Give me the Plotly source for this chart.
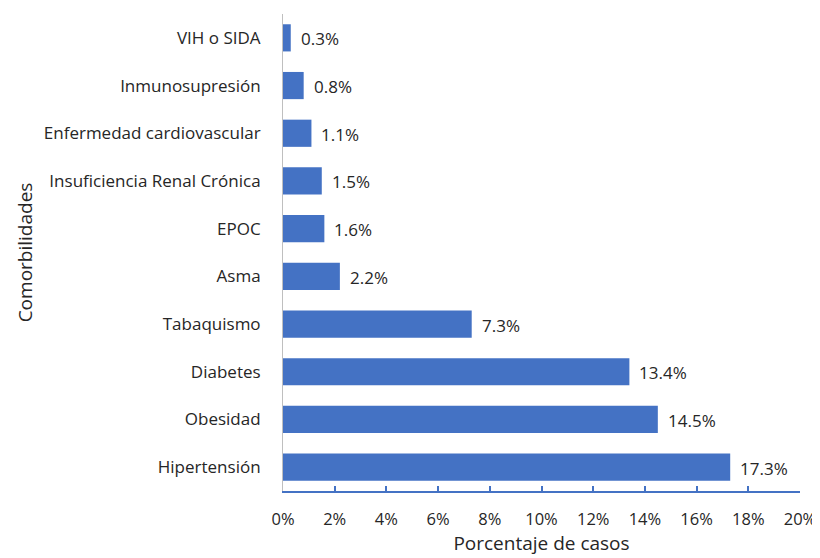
import plotly.graph_objects as go

categories = ["Hipertensión", "Obesidad", "Diabetes", "Tabaquismo", "Asma", "EPOC",
              "Insuficiencia Renal Crónica", "Enfermedad cardiovascular",
              "Inmunosupresión", "VIH o SIDA"]
values = [17.3, 14.5, 13.4, 7.3, 2.2, 1.6, 1.5, 1.1, 0.8, 0.3]
x_ticks = [0, 2, 4, 6, 8, 10, 12, 14, 16, 18, 20]
x_tick_labels = [f"{t}%" for t in x_ticks]

FONT = "Open Sans"
TXT = "#262626"
FS = 17

fig = go.Figure(go.Bar(
    x=values, y=categories, orientation="h",
    marker=dict(color="#4472C4", line=dict(width=0)),
    width=0.57,
    hoverinfo="skip",
))

for c, v in zip(categories, values):
    fig.add_annotation(x=v, y=c, text=f"{v:.1f}%", showarrow=False,
                       xanchor="left", xshift=8, yshift=-1,
                       font=dict(family=FONT, size=FS, color=TXT))

fig.update_layout(
    width=812, height=550,
    margin=dict(l=275, r=20, t=6, b=67),
    paper_bgcolor="white", plot_bgcolor="white",
    showlegend=False,
    font=dict(family=FONT, size=FS, color=TXT),
    xaxis=dict(
        range=[0, 20], tickvals=x_ticks, ticktext=x_tick_labels,
        automargin=False,
        showgrid=False, zeroline=False,
        showline=True, linecolor="#4472C4", linewidth=1.5,
        ticks="inside", ticklen=5, tickcolor="#4472C4", tickwidth=1.5,
        tickfont=dict(family=FONT, size=FS - 0.5, color=TXT),
        ticklabelstandoff=12,
        title=dict(text="Porcentaje de casos", standoff=2,
                   font=dict(family=FONT, size=19, color=TXT)),
    ),
    yaxis=dict(
        range=[-0.5, 9.5],
        automargin=False,
        showgrid=False, zeroline=False,
        showline=True, linecolor="#BFBFBF", linewidth=1,
        ticks="", ticklabelstandoff=18,
        tickfont=dict(family=FONT, size=FS, color=TXT),
        title=dict(text="Comorbilidades", standoff=6,
                   font=dict(family=FONT, size=19, color=TXT)),
    ),
)

fig.write_html("out.html")
